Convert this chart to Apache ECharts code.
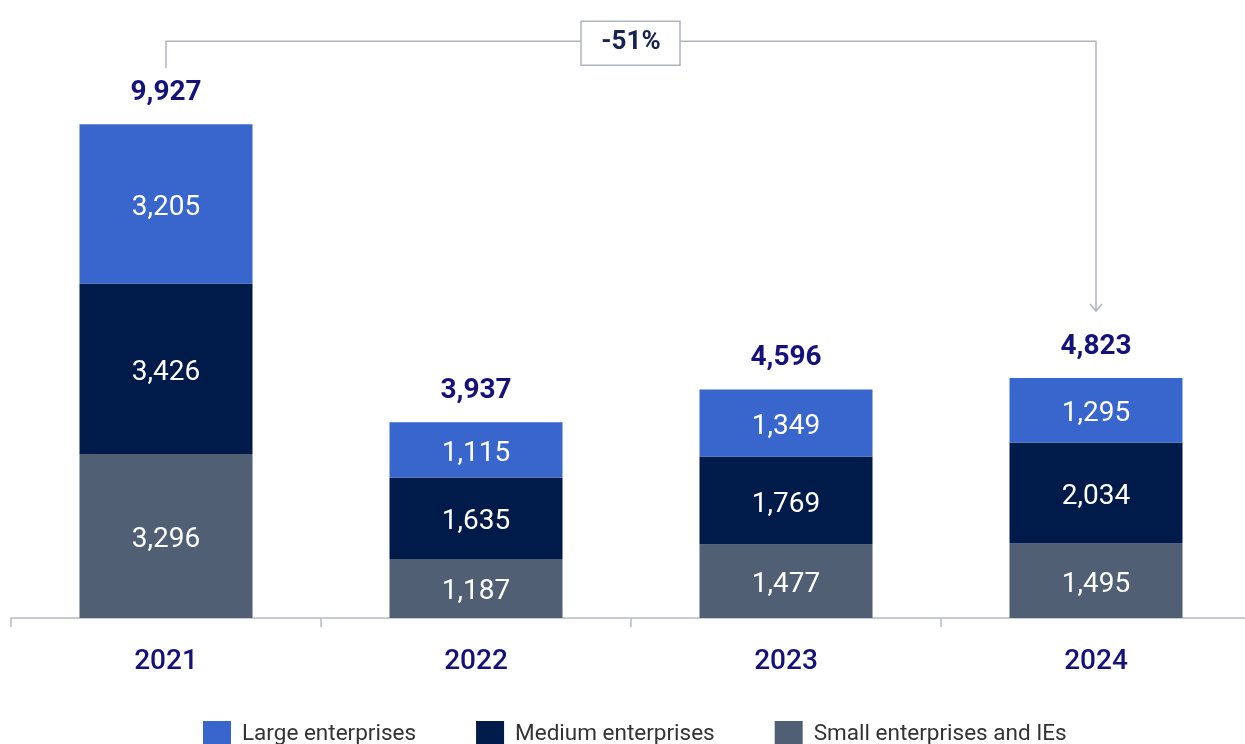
<!DOCTYPE html>
<html>
<head>
<meta charset="utf-8">
<script src="https://cdn.jsdelivr.net/npm/echarts@6/dist/echarts.min.js"></script>
<style>
  html, body { margin: 0; padding: 0; background: #ffffff; }
  #chart { width: 1245px; height: 744px; }
</style>
</head>
<body>
<div id="chart"></div>
<script>
// Number of enterprises by size, 2021–2024
const years = ['2021', '2022', '2023', '2024'];
const largeEnterprises = [3205, 1115, 1349, 1295];
const mediumEnterprises = [3426, 1635, 1769, 2034];
const smallEnterprises = [3296, 1187, 1477, 1495];
const totals = [9927, 3937, 4596, 4823];
const changeLabel = '-51%';

const FONT = 'Roboto, "Open Sans", sans-serif';
const NAVY_TEXT = '#14117a';
const fmt = v => v.toLocaleString('en-US');

const chart = echarts.init(document.getElementById('chart'), null, { renderer: 'canvas' });

const segmentLabel = {
  show: true,
  position: 'inside',
  offset: [0, 4],
  color: '#ffffff',
  fontFamily: FONT,
  fontSize: 28,
  formatter: p => fmt(p.value)
};

chart.setOption({
  animation: false,
  backgroundColor: '#ffffff',
  grid: { left: 11, right: -6, top: 21, bottom: 126, outerBoundsMode: 'none' },
  legend: {
    top: 721,
    left: 203,
    padding: 0,
    itemWidth: 28,
    itemHeight: 27,
    itemGap: 60,
    icon: 'rect',
    textStyle: { fontFamily: FONT, fontSize: 22.5, color: '#333333', padding: [0, 0, 0, 6] },
    data: ['Large enterprises', 'Medium enterprises', 'Small enterprises and IEs']
  },
  xAxis: {
    type: 'category',
    data: years,
    axisLine: { lineStyle: { color: '#b6bac4', width: 1.5 } },
    axisTick: { show: true, length: 9, lineStyle: { color: '#b6bac4', width: 1.5 } },
    axisLabel: { margin: 30, fontFamily: FONT, fontSize: 28, fontWeight: 500, color: NAVY_TEXT }
  },
  yAxis: { type: 'value', min: 0, max: 12000, show: false, splitLine: { show: false } },
  series: [
    {
      name: 'Small enterprises and IEs', type: 'bar', stack: 'total', barWidth: 173,
      itemStyle: { color: '#505f74' }, label: segmentLabel, data: smallEnterprises
    },
    {
      name: 'Medium enterprises', type: 'bar', stack: 'total', barWidth: 173,
      itemStyle: { color: '#001a4a' }, label: segmentLabel, data: mediumEnterprises
    },
    {
      name: 'Large enterprises', type: 'bar', stack: 'total', barWidth: 173,
      itemStyle: { color: '#3866cc' }, label: segmentLabel, data: largeEnterprises
    },
    {
      name: 'Total', type: 'scatter', symbolSize: 0, silent: true,
      itemStyle: { opacity: 1 },
      data: totals,
      label: {
        show: true, position: 'top', distance: 17, opacity: 1,
        fontFamily: FONT, fontSize: 28, fontWeight: 'bold', color: NAVY_TEXT,
        formatter: p => fmt(p.value)
      }
    }
  ]
});

// Bracket from the first to the last year with the overall change
function drawBracket() {
  const first = 0, last = years.length - 1;
  const xL = chart.convertToPixel({ xAxisIndex: 0 }, years[first]);
  const xR = chart.convertToPixel({ xAxisIndex: 0 }, years[last]);
  const yFirst = chart.convertToPixel({ yAxisIndex: 0 }, totals[first]);
  const yLast = chart.convertToPixel({ yAxisIndex: 0 }, totals[last]);
  const yLine = yFirst - 83;
  const yLeftEnd = yFirst - 56;
  const yTip = yLast - 67;
  const xMid = (xL + xR) / 2;
  const stroke = { stroke: '#b0b4bc', lineWidth: 1.5, fill: null };

  chart.setOption({
    graphic: [
      { type: 'polyline', silent: true, shape: { points: [[xL, yLeftEnd], [xL, yLine], [xR, yLine], [xR, yTip]] }, style: stroke },
      { type: 'polyline', silent: true, shape: { points: [[xR - 6, yTip - 7], [xR, yTip], [xR + 6, yTip - 7]] }, style: stroke },
      { type: 'rect', silent: true, shape: { x: xMid - 50, y: yLine - 20, width: 99, height: 44 },
        style: { fill: '#ffffff', stroke: '#b0b4bc', lineWidth: 1.5 } },
      { type: 'text', silent: true, x: xMid, y: yLine + 1,
        style: { text: changeLabel, fill: '#16224f', font: 'bold 26px ' + FONT, align: 'center', verticalAlign: 'middle' } }
    ]
  });
}
drawBracket();
</script>
</body>
</html>
